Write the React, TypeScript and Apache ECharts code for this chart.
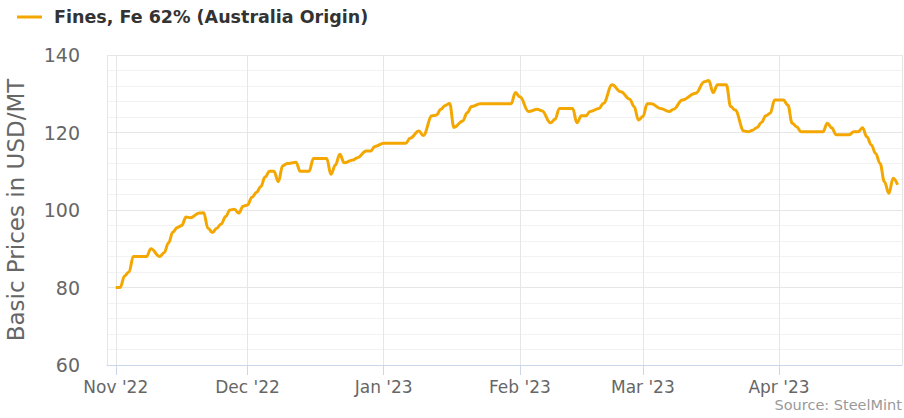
import React, { useEffect, useRef } from "react";
import * as echarts from "echarts";

const seriesName = "Fines, Fe 62% (Australia Origin)";
const yAxisTitle = "Basic Prices in USD/MT";
const sourceText = "Source: SteelMint";
const monthNames = ["Jan", "Feb", "Mar", "Apr", "May", "Jun", "Jul", "Aug", "Sep", "Oct", "Nov", "Dec"];

const dates = [
  "2022-11-01", "2022-11-02", "2022-11-03", "2022-11-04", "2022-11-05", "2022-11-08", "2022-11-09",
  "2022-11-11", "2022-11-12", "2022-11-13", "2022-11-14", "2022-11-15", "2022-11-16", "2022-11-17",
  "2022-11-18", "2022-11-20", "2022-11-21", "2022-11-22", "2022-11-23", "2022-11-24", "2022-11-25",
  "2022-11-26", "2022-11-27", "2022-11-28", "2022-11-29", "2022-11-30",
  "2022-12-01", "2022-12-02", "2022-12-03", "2022-12-04", "2022-12-05", "2022-12-06", "2022-12-07",
  "2022-12-08", "2022-12-09", "2022-12-10", "2022-12-12", "2022-12-13", "2022-12-15", "2022-12-16",
  "2022-12-19", "2022-12-20", "2022-12-21", "2022-12-22", "2022-12-23", "2022-12-25", "2022-12-26",
  "2022-12-28", "2022-12-29", "2022-12-30",
  "2023-01-01", "2023-01-06", "2023-01-07", "2023-01-09", "2023-01-10", "2023-01-12", "2023-01-13",
  "2023-01-14", "2023-01-15", "2023-01-16", "2023-01-17", "2023-01-19", "2023-01-20", "2023-01-21",
  "2023-01-23", "2023-01-30", "2023-01-31",
  "2023-02-01", "2023-02-03", "2023-02-05", "2023-02-06", "2023-02-08", "2023-02-09", "2023-02-10",
  "2023-02-13", "2023-02-14", "2023-02-15", "2023-02-16", "2023-02-17", "2023-02-19", "2023-02-20",
  "2023-02-22", "2023-02-24", "2023-02-26", "2023-02-27", "2023-02-28",
  "2023-03-01", "2023-03-02", "2023-03-03", "2023-03-05", "2023-03-07", "2023-03-08", "2023-03-10",
  "2023-03-13", "2023-03-15", "2023-03-16", "2023-03-17", "2023-03-18", "2023-03-20", "2023-03-21",
  "2023-03-22", "2023-03-24", "2023-03-25", "2023-03-26", "2023-03-27", "2023-03-28", "2023-03-29",
  "2023-03-30", "2023-03-31",
  "2023-04-02", "2023-04-03", "2023-04-04", "2023-04-05", "2023-04-06", "2023-04-11", "2023-04-12",
  "2023-04-13", "2023-04-14", "2023-04-17", "2023-04-18", "2023-04-19", "2023-04-20", "2023-04-21",
  "2023-04-22", "2023-04-23", "2023-04-24", "2023-04-25", "2023-04-26", "2023-04-27", "2023-04-28",
];

const prices = [
  80, 80, 83, 84, 88, 88, 90,
  88, 89, 91.5, 94.3, 95.5, 96, 98.2,
  98, 99.2, 99.3, 95.3, 94.2, 95.3, 96.4,
  98.3, 100, 100.2, 99.2, 101,
  101.3, 103.3, 104.5, 106, 108.5, 110, 110,
  107.3, 111.4, 112, 112.3, 110, 110, 113.3,
  113.3, 109.2, 111.6, 114.4, 112.2, 112.9, 113.5,
  115.2, 115.2, 116.4,
  117.2, 117.2, 118.5, 120.4, 119.2, 124.3, 124.5,
  126, 127, 127.5, 121.3, 123, 125.1, 126.7,
  127.4, 127.4, 130.3,
  129.2, 125.4, 126, 125.6, 122.5, 123.4, 126.2,
  126.2, 122.5, 124.3, 124.3, 125.4, 126.2, 127.5,
  132.3, 130.5, 128.6, 126.7, 123.2,
  124.1, 127.4, 127.4, 126.2, 125.4, 126, 128.4,
  130.1, 133.1, 133.4, 130.3, 132.3, 132.3, 126.7,
  125.8, 120.4, 120.2, 120.6, 121.3, 122.6, 124.3,
  125, 128.4,
  128.4, 127.1, 122.4, 121.5, 120.2, 120.2, 122.4,
  121.2, 119.4, 119.4, 120.2, 120.2, 121.2, 118.9,
  116.8, 114.6, 112, 107.3, 104.3, 108.2, 106.5,
];

const xMin = "2022-10-30";
const xMax = "2023-04-29";
const yMin = 60;
const yMax = 140;
const yStep = 20;

const FONT = "DejaVu Sans";

export default function App() {
  const ref = useRef<HTMLDivElement>(null);

  useEffect(() => {
    if (!ref.current) return;
    const chart = echarts.init(ref.current, null, { renderer: "svg" });
    const data = dates.map((d, i) => [d, prices[i]]);
    chart.setOption({
      animation: false,
      backgroundColor: "#ffffff",
      textStyle: { fontFamily: FONT },
      legend: {
        show: true,
        left: 12,
        top: 3,
        icon: "rect",
        itemWidth: 25,
        itemHeight: 3,
        itemGap: 10,
        data: [seriesName],
        textStyle: {
          fontFamily: FONT,
          fontSize: 17.5,
          fontWeight: "bold",
          color: "#333333",
          padding: [0, 0, 0, 7],
        },
      },
      graphic: [
        {
          type: "text",
          x: 902,
          y: 405,
          style: {
            text: sourceText,
            fill: "#999999",
            font: `14.5px "${FONT}"`,
            textAlign: "right",
            textVerticalAlign: "middle",
          },
        },
      ],
      grid: {
        left: 107,
        right: 2,
        top: 55,
        bottom: 53,
        containLabel: false,
        outerBoundsMode: "none",
      },
      xAxis: {
        type: "time",
        min: xMin,
        max: xMax,
        splitNumber: 6,
        minInterval: 28 * 86400000,
        axisLine: { show: true, lineStyle: { color: "#ccd6eb", width: 1 } },
        axisTick: { show: true, length: 10, lineStyle: { color: "#ccd6eb" } },
        splitLine: { show: true, lineStyle: { color: "#e6e6e6", width: 1 } },
        axisLabel: {
          show: true,
          color: "#666666",
          fontFamily: FONT,
          fontSize: 17,
          margin: 13,
          showMinLabel: false,
          showMaxLabel: false,
          formatter: (val: number) => {
            const d = new Date(val);
            if (d.getDate() !== 1) return "";
            return `${monthNames[d.getMonth()]} '${String(d.getFullYear()).slice(2)}`;
          },
        },
      },
      yAxis: {
        type: "value",
        min: yMin,
        max: yMax,
        interval: yStep,
        name: yAxisTitle,
        nameLocation: "middle",
        nameRotate: 90,
        nameGap: 80,
        nameTextStyle: { color: "#666666", fontFamily: FONT, fontSize: 23 },
        axisLine: { show: false },
        axisTick: { show: false },
        axisLabel: { color: "#666666", fontFamily: FONT, fontSize: 19, margin: 27 },
        splitLine: { show: true, lineStyle: { color: "#e6e6e6", width: 1 } },
        minorTick: { show: false, splitNumber: 5 },
        minorSplitLine: { show: true, lineStyle: { color: "#f2f2f2", width: 1 } },
      },
      series: [
        {
          name: seriesName,
          type: "line",
          data,
          smooth: 0.4,
          smoothMonotone: "x",
          showSymbol: false,
          symbol: "none",
          lineStyle: { color: "#f4a700", width: 3 },
          itemStyle: { color: "#f4a700" },
        },
      ],
    });
    return () => chart.dispose();
  }, []);

  return (
    <div
      ref={ref}
      style={{ position: "absolute", left: 0, top: 0, width: 904, height: 418 }}
    />
  );
}
